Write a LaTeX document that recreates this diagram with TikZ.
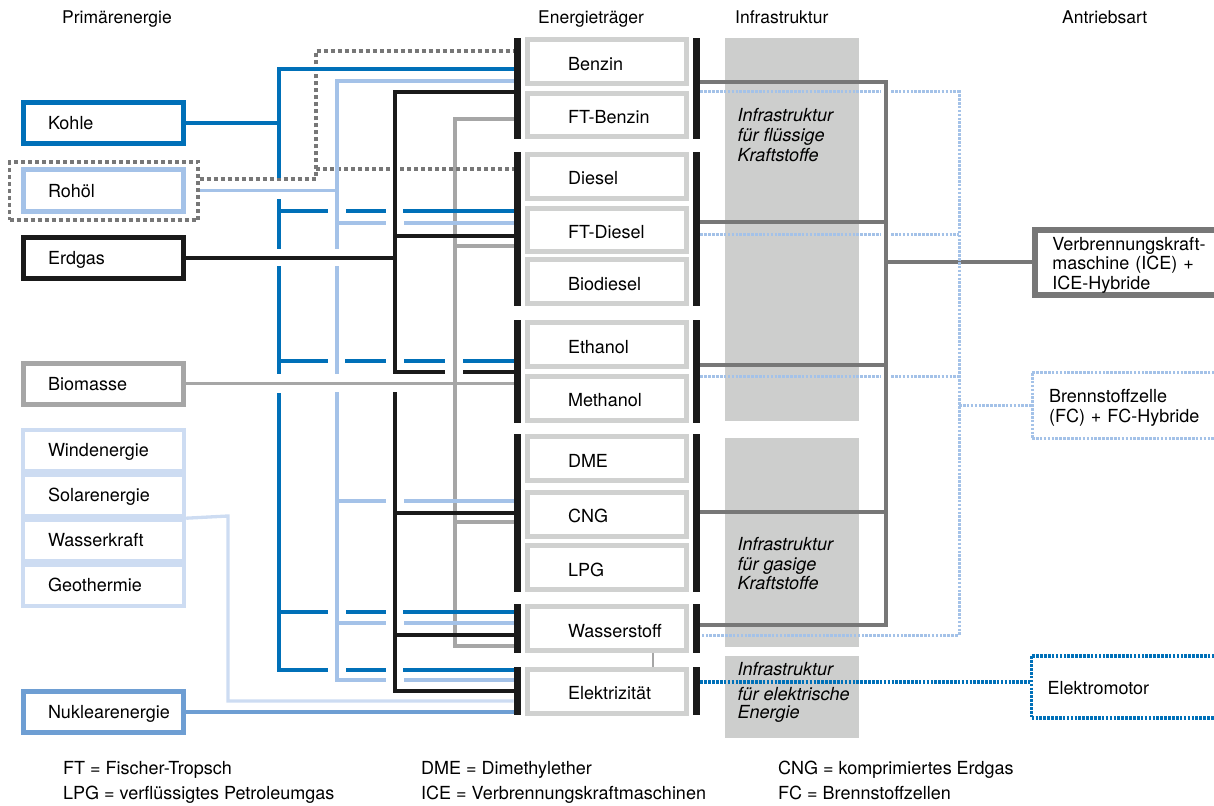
\documentclass[tikz,border=0pt]{standalone}
\usepackage{fontspec}
\setmainfont{TeX Gyre Heros}
\definecolor{cK}{HTML}{0070B8}
\definecolor{cR}{HTML}{A4C2E8}
\definecolor{cW}{HTML}{CDDCF2}
\definecolor{cN}{HTML}{6E9ED3}
\definecolor{cB}{HTML}{A6A6A6}
\definecolor{cE}{HTML}{1A1A1A}
\definecolor{cG}{HTML}{777777}
\definecolor{cBox}{HTML}{D0D1D0}
\definecolor{cInf}{HTML}{CDCECD}
\tikzset{
  lefttext/.style 2 args={execute at begin node={\hbox to #1\bgroup\hskip#2\relax},
    execute at end node={\hfil\egroup}},
  bigfont/.style={font=\fontsize{18}{19.5}\selectfont},
  pbox/.style={draw=#1, line width=5pt, fill=white, minimum width=160pt,
    minimum height=41pt, inner sep=0pt, text height=13pt, text depth=0pt,
    bigfont, lefttext={150pt}{19.5pt}},
  rbox/.style={draw=cW, line width=4.4pt, fill=white, minimum width=161pt,
    minimum height=41pt, inner sep=0pt, text height=12.5pt, text depth=0pt,
    bigfont, lefttext={150pt}{19.5pt}},
  cbox/.style={draw=cBox, line width=5pt, fill=white, minimum width=159pt,
    minimum height=43.7pt, inner sep=0pt, text height=17pt, text depth=0pt,
    bigfont, lefttext={150pt}{36pt}},
  bar/.style={fill=cE, minimum width=7.5pt, minimum height=#1, inner sep=0pt},
  infra/.style={fill=cInf, minimum width=134pt, minimum height=#1, inner sep=0pt},
  ln/.style={line width=3.3pt},
  dotgrey/.style={draw=cG, line width=3.3pt, dash pattern=on 4pt off 3pt},
  dotfc/.style={draw=cR, line width=3pt, dash pattern=on 2.6pt off 1.3pt},
  dotel/.style={draw=cK, line width=3.4pt, dash pattern=on 2.6pt off 1.3pt},
  hdr/.style={anchor=base west, inner sep=0pt, font=\fontsize{17.5}{20}\selectfont},
  leg/.style={anchor=base west, inner sep=0pt, font=\fontsize{18}{20}\selectfont},
  inf/.style={anchor=base west, inner sep=0pt, font=\fontsize{18}{20}\selectfont\itshape},
  abox/.style={line width=#1, fill=white, minimum width=220pt, anchor=west,
    inner sep=0pt, align=left, bigfont},
}
\begin{document}
\begin{tikzpicture}[x=1pt,y=-1pt]
\useasboundingbox (0,0) rectangle (1214,805);
\clip (0,0) rectangle (1214,805);

% infrastructure columns
\node[infra=383pt] (inf1) at (792,229.2) {};
\node[infra=209pt] (inf2) at (792,542.2) {};
\node[infra=82pt] (inf3) at (792,697) {};

% headers
\node[hdr] (h1) at (62,24) {Primärenergie};
\node[hdr] (h2) at (538,24) {Energieträger};
\node[hdr] (h3) at (735,24) {Infrastruktur};
\node[hdr] (h4) at (1062,24) {Antriebsart};

% primary energy
\node[draw=cG, dotgrey, minimum width=188.5pt, minimum height=58pt, inner sep=0pt] (rohframe) at (103.75,191) {};
\node[pbox=cK] (kohle) at (103.5,123) {Kohle};
\node[pbox=cR] (rohoel) at (103.5,190.5) {Rohöl};
\node[pbox=cE] (erdgas) at (103.5,258) {Erdgas};
\node[pbox=cB] (biomasse) at (103.5,383.5) {Biomasse};
\node[rbox] (wind) at (103.5,450.5) {Windenergie};
\node[rbox] (solar) at (103.5,495.5) {Solarenergie};
\node[rbox] (wasser) at (103.5,540.5) {Wasserkraft};
\node[rbox] (geo) at (103.5,585.5) {Geothermie};
\node[pbox=cN] (nuklear) at (103.5,712) {Nuklearenergie};

% energy carriers
\node[cbox] (benzin) at (607,61.7) {Benzin};
\node[cbox] (ftbenzin) at (607,115) {FT-Benzin};
\node[cbox] (diesel) at (607,176.3) {Diesel};
\node[cbox] (ftdiesel) at (607,230) {FT-Diesel};
\node[cbox] (biodiesel) at (607,281.7) {Biodiesel};
\node[cbox] (ethanol) at (607,344.5) {Ethanol};
\node[cbox] (methanol) at (607,398.3) {Methanol};
\node[cbox] (dme) at (607,458.5) {DME};
\node[cbox] (cng) at (607,514.2) {CNG};
\node[cbox] (lpg) at (607,567.8) {LPG};
\node[cbox] (wasserstoff) at (607,628.5) {Wasserstoff};
\node[cbox] (elektrizitaet) at (607,691.2) {Elektrizität};

% bars
\node[bar=100.7pt] (lb1) at (517.5,88.65) {};
\node[bar=153.7pt] (lb2) at (517.5,229.15) {};
\node[bar=102.7pt] (lb3) at (517.5,371.35) {};
\node[bar=158pt] (lb4) at (517.5,513.3) {};
\node[bar=48.4pt] (lb5) at (517.5,628.5) {};
\node[bar=47.7pt] (lb6) at (517.5,691.15) {};
\node[bar=100.7pt] (rb1) at (696.5,88.65) {};
\node[bar=153.7pt] (rb2) at (696.5,229.15) {};
\node[bar=102.7pt] (rb3) at (696.5,371.35) {};
\node[bar=158pt] (rb4) at (696.5,513.3) {};
\node[bar=48.4pt] (rb5) at (696.5,628.5) {};
\node[bar=47.7pt] (rb6) at (696.5,691.15) {};

% infrastructure labels
\node[inf] (i1a) at (737.5,121.7) {Infrastruktur};
\node[inf] (i1b) at (737.5,141.7) {für flüssige};
\node[inf] (i1c) at (737.5,161.7) {Kraftstoffe};
\node[inf] (i2a) at (737.5,550) {Infrastruktur};
\node[inf] (i2b) at (737.5,570) {für gasige};
\node[inf] (i2c) at (737.5,589.5) {Kraftstoffe};
\node[inf] (i3a) at (737.5,675.7) {Infrastruktur};
\node[inf] (i3b) at (737.5,700.7) {für elektrische};
\node[inf] (i3c) at (737.5,718) {Energie};

% drive types
\node[abox=5.8pt, draw=cG, minimum height=65pt, text width=185pt,
  text height=13pt, text depth=38pt] (ice) at (1032,262.5)
  {Verbrennungskraft-\\maschine (ICE) +\\ICE-Hybride};
\node[abox=3pt, draw=cR, dash pattern=on 2.6pt off 1.3pt, minimum height=66pt,
  text width=186pt, text height=13pt, text depth=19pt] (fc) at (1030.5,405)
  {Brennstoffzelle\\[1pt](FC) + FC-Hybride};
\node[abox=3.6pt, draw=cK, dash pattern=on 2.6pt off 1.3pt, minimum height=62.5pt,
  text width=188pt, text height=14pt, text depth=0pt] (em) at (1029.8,687)
  {Elektromotor};

% ---- Biomasse (grey)
\draw[ln,cB] (biomasse.east) -- (lb3.west |- biomasse.east);
\draw[ln,cB] (lb1.west |- 0,119) -| (455,646) -- (lb5.west |- 0,646);
\draw[ln,cB] (455,246) -- (lb2.west |- 0,246);
\draw[ln,cB] (455,522) -- (lb4.west |- 0,522);

% ---- Rohoel dotted (grey)
\draw[dotgrey] (rohframe.east |- 0,179) -- (316,179) |- (lb1.west |- 0,51);
\draw[dotgrey] (316,169) -- (lb2.west |- 0,169);

% ---- Kohle (blue)
\draw[ln,cK] (kohle.east) -- (279,123);
\draw[ln,cK] (lb1.west |- 0,69) -- (279,69) -- (279,178);
\draw[ln,cK] (279,199) -- (279,249);
\draw[ln,cK] (279,266) -- (279,374);
\draw[ln,cK] (279,393) -- (279,670) -- (328,670);
\draw[ln,cK] (279,211) -- (328,211) (346,211) -- (386,211);
\draw[ln,cK] (403,211) -- (lb2.west |- 0,211);
\draw[ln,cK] (279,361) -- (328,361) (345,361) -- (386,361) (404,361) -- (445,361);
\draw[ln,cK] (463,361) -- (lb3.west |- 0,361);
\draw[ln,cK] (279,612) -- (328,612) (346,612) -- (386,612);
\draw[ln,cK] (403,612) -- (lb5.west |- 0,612);
\draw[ln,cK] (346,670) -- (386,670);
\draw[ln,cK] (403,670) -- (lb6.west |- 0,670);

% ---- Rohoel (light blue)
\draw[ln,cR] (rohframe.east |- rohoel.east) -- (337,190.5);
\draw[ln,cR] (lb1.west |- 0,81) -- (337,81) -- (337,249);
\draw[ln,cR] (337,266) -- (337,374);
\draw[ln,cR] (337,392) -- (337,680) -- (386,680);
\draw[ln,cR] (337,223) -- (386,223);
\draw[ln,cR] (404,223) -- (lb2.west |- 0,223);
\draw[ln,cR] (337,501) -- (386,501);
\draw[ln,cR] (404,501) -- (lb4.west |- 0,501);
\draw[ln,cR] (337,623) -- (386,623);
\draw[ln,cR] (404,623) -- (lb5.west |- 0,623);
\draw[ln,cR] (404,680) -- (lb6.west |- 0,680);

% ---- Erdgas (black)
\draw[ln,cE] (erdgas.east) -- (395,258);
\draw[ln,cE] (lb1.west |- 0,92) -- (395,92) -- (395,372) -- (445,372);
\draw[ln,cE] (463,372) -- (lb3.west |- 0,372);
\draw[ln,cE] (395,392) -- (395,691) -- (lb6.west |- 0,691);
\draw[ln,cE] (395,236) -- (lb2.west |- 0,236);
\draw[ln,cE] (395,513) -- (lb4.west |- 0,513);
\draw[ln,cE] (395,635) -- (lb5.west |- 0,635);

% ---- renewables and nuclear
\draw[ln,cW] (solar.south east) -- (228,516) |- (lb6.west |- 0,701);
\draw[ln,cN] (nuklear.east) -- (lb6.west |- nuklear.east);

% ---- Wasserstoff - Elektrizitaet
\draw[line width=2.2pt,cB] (wasserstoff.south -| 653,0) -- (elektrizitaet.north -| 653,0);

% ---- ICE (dark grey)
\draw[ln,cG] (rb1.east |- 0,82) -- (886,82) -- (886,625) -- (rb5.east |- 0,625);
\draw[ln,cG] (rb2.east |- 0,222) -- (886,222);
\draw[ln,cG] (rb3.east |- 0,365) -- (886,365);
\draw[ln,cG] (rb4.east |- 0,512) -- (886,512);
\draw[ln,cG] (886,262) -- (ice.west |- 0,262);

% ---- FC (light blue dotted)
\draw[dotfc] (rb1.east |- 0,92) -- (881,92) (891,92) -- (959,92) -- (959,635) -- (rb5.east |- 0,635);
\draw[dotfc] (rb2.east |- 0,234) -- (881,234) (891,234) -- (959,234);
\draw[dotfc] (rb3.east |- 0,376) -- (881,376) (891,376) -- (959,376);
\draw[dotfc] (959,405) -- (fc.west |- 0,405);

% ---- Elektro (blue dotted)
\draw[dotel] (rb6.east |- 0,682) -- (em.west |- 0,682);

% legend
\node[leg] (l1) at (63,774.5) {FT = Fischer-Tropsch};
\node[leg] (l2) at (63,799.5) {LPG = verflüssigtes Petroleumgas};
\node[leg] (l3) at (421,774.5) {DME = Dimethylether};
\node[leg] (l4) at (421,799.5) {ICE = Verbrennungskraftmaschinen};
\node[leg] (l5) at (778,774.5) {CNG = komprimiertes Erdgas};
\node[leg] (l6) at (778,799.5) {FC = Brennstoffzellen};
\end{tikzpicture}
\end{document}
